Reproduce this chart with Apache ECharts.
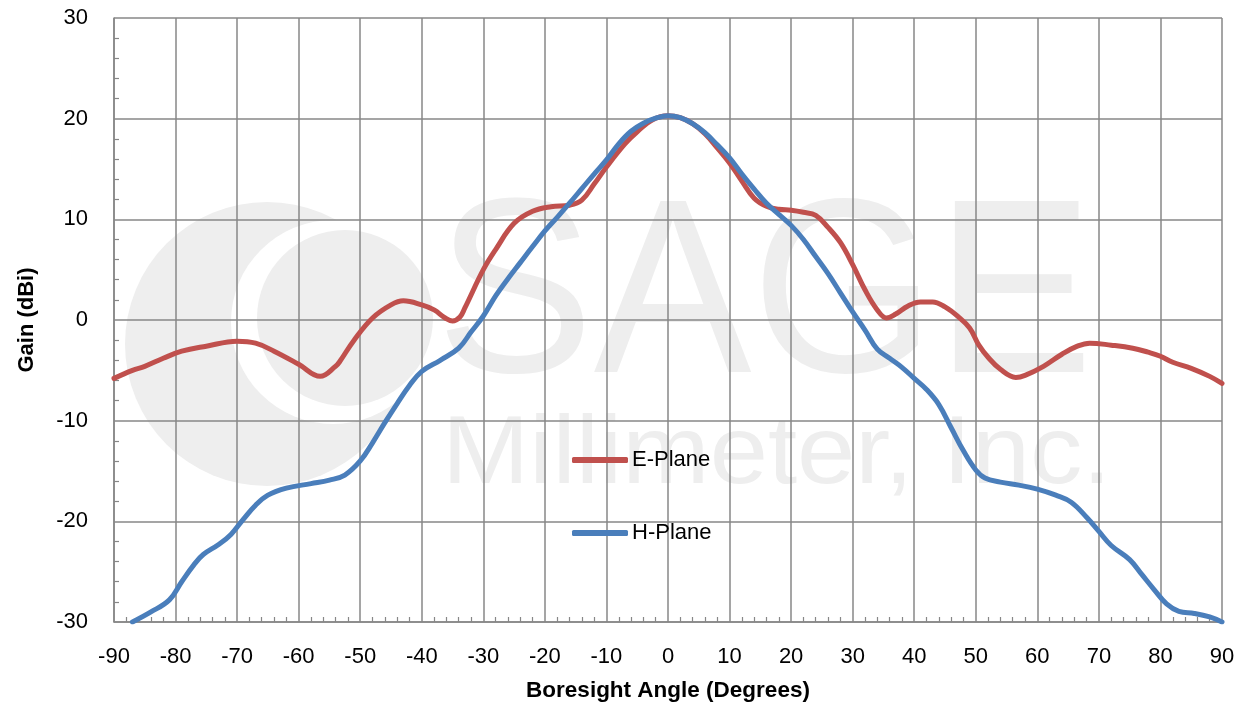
<!DOCTYPE html>
<html>
<head>
<meta charset="utf-8">
<script src="https://cdn.jsdelivr.net/npm/echarts@6/dist/echarts.min.js"></script>
<style>html,body{margin:0;padding:0;background:#fff}#c{width:1248px;height:711px}</style>
</head>
<body>
<div id="c"></div>
<script>
// Boresight angle (deg) and gain (dBi) pairs
const eAngles = [-90,-87,-85,-82,-79,-75,-70,-67,-64,-60,-56.5,-54,-53.3,-51,-48,-45,-43,-40,-38,-36.2,-35,-33.8,-33,-30,-28,-25,-22,-19,-16,-14,-12,-10,-7,-5,-2.5,0,2,4,6,8,10,12,14,16,18,20,22,24,26,28,30,32,34,35.5,37,39,41,43,45,47,49,50.5,52,54,56.5,58,61,64,66.5,68.5,72,75.5,78,80,82,85,88,90];
const eGain   = [-5.8,-5.0,-4.6,-3.8,-3.1,-2.6,-2.1,-2.3,-3.1,-4.4,-5.6,-4.6,-4.1,-2.0,0.2,1.5,1.9,1.5,1.0,0.2,-0.1,0.3,1.2,5.0,7.0,9.6,10.8,11.25,11.4,11.9,13.5,15.2,17.5,18.7,19.9,20.3,20.1,19.5,18.5,17.1,15.6,13.8,12.1,11.3,11.0,10.9,10.7,10.4,9.2,7.7,5.5,3.0,1.0,0.2,0.6,1.4,1.8,1.8,1.3,0.4,-0.8,-2.5,-3.7,-4.9,-5.7,-5.5,-4.6,-3.4,-2.6,-2.3,-2.5,-2.8,-3.2,-3.6,-4.2,-4.8,-5.6,-6.3];
const hAngles = [-87,-84,-81,-79,-77,-75.5,-73,-71,-69,-67,-65,-62,-58,-55,-52.5,-50,-48,-46,-44,-42,-40,-37,-34,-32,-30,-28,-26,-24,-22,-20,-18,-16,-14,-12,-10,-8,-6,-4,-2,0,2,4,6,8,10,12,14,16,18,20,22,24,26,28,30,32,34,36,38,40,42,44,46,48,50,51.5,54,57,60,63,65.5,68,70,72,75,77,79,81,83,85.5,88,90];
const hGain   = [-30.0,-29.0,-27.8,-26.0,-24.3,-23.3,-22.3,-21.3,-19.8,-18.4,-17.4,-16.7,-16.25,-15.9,-15.4,-14.0,-12.2,-10.2,-8.3,-6.5,-5.1,-4.0,-2.8,-1.2,0.4,2.4,4.1,5.7,7.3,8.85,10.2,11.6,13.05,14.5,15.9,17.5,18.75,19.55,20.05,20.3,20.1,19.5,18.6,17.4,16.1,14.5,13.0,11.6,10.5,9.4,8.0,6.3,4.6,2.7,0.8,-1.0,-2.9,-3.8,-4.7,-5.8,-6.9,-8.4,-10.7,-13.0,-14.9,-15.7,-16.1,-16.4,-16.8,-17.4,-18.1,-19.6,-21.0,-22.4,-23.8,-25.3,-26.8,-28.2,-28.95,-29.15,-29.5,-30.0];
const xTicks = {min: -90, max: 90, interval: 10};
const yTicks = {min: -30, max: 30, interval: 10};
const seriesNames = ['E-Plane', 'H-Plane'];

const pairs = (xs, ys) => xs.map((x, i) => [x, ys[i]]);
const FONT = 'Liberation Sans';
const gridColor = '#878787';
const wm = '#eeeeee';

const chart = echarts.init(document.getElementById('c'), null, {renderer: 'canvas'});
chart.setOption({
  backgroundColor: '#ffffff',
  animation: false,
  textStyle: {fontFamily: FONT},
  graphic: [
    {type: 'circle', z: -10, silent: true, shape: {cx: 267, cy: 344, r: 142}, style: {fill: wm}},
    {type: 'circle', z: -9, silent: true, shape: {cx: 333, cy: 322, r: 102}, style: {fill: '#ffffff'}},
    {type: 'circle', z: -8, silent: true, shape: {cx: 345, cy: 318, r: 88}, style: {fill: wm}},
    {type: 'text', z: -10, silent: true, x: 436, y: 179, scaleX: 0.95,
     style: {text: 'SAGE', font: '249px "Liberation Sans"', fill: wm}},
    {type: 'text', z: -10, silent: true, x: 442, y: 408, scaleX: 1.08,
     style: {text: 'Millimeter, Inc.', font: '97px "Liberation Sans"', fill: wm}}
  ],
  grid: {left: 114, right: 26, top: 18, bottom: 89, containLabel: false},
  legend: {
    orient: 'vertical', left: 572, top: 449, itemGap: 51, padding: 0,
    itemWidth: 56, itemHeight: 6, icon: 'roundRect',
    textStyle: {fontFamily: FONT, fontSize: 22, color: '#000', padding: [0, 0, 0, -1]},
    data: seriesNames
  },
  xAxis: {
    type: 'value', min: xTicks.min, max: xTicks.max, interval: xTicks.interval,
    name: 'Boresight Angle (Degrees)', nameLocation: 'middle', nameGap: 57,
    nameTextStyle: {fontFamily: FONT, fontSize: 22.5, fontWeight: 'bold', color: '#000'},
    axisLine: {show: true, onZero: false, lineStyle: {color: gridColor, width: 1.5}},
    axisTick: {show: false, inside: true},
    minorTick: {show: true, splitNumber: 5, length: 5, lineStyle: {color: gridColor, width: 1.2}},
    axisLabel: {fontFamily: FONT, fontSize: 22, color: '#000', margin: 24},
    splitLine: {show: true, lineStyle: {color: gridColor, width: 1.5}}
  },
  yAxis: {
    type: 'value', min: yTicks.min, max: yTicks.max, interval: yTicks.interval,
    name: 'Gain (dBi)', nameLocation: 'middle', nameGap: 76, nameRotate: 90,
    nameTextStyle: {fontFamily: FONT, fontSize: 22, fontWeight: 'bold', color: '#000'},
    axisLine: {show: true, onZero: false, lineStyle: {color: gridColor, width: 1.5}},
    axisTick: {show: false, inside: true},
    minorTick: {show: true, splitNumber: 5, length: 5, lineStyle: {color: gridColor, width: 1.2}},
    axisLabel: {fontFamily: FONT, fontSize: 22, color: '#000', margin: 26},
    splitLine: {show: true, lineStyle: {color: gridColor, width: 1.5}}
  },
  series: [
    {name: seriesNames[0], type: 'line', data: pairs(eAngles, eGain), smooth: 0.4,
     showSymbol: false, symbol: 'none', color: '#c0504d', clip: true,
     lineStyle: {width: 5, color: '#c0504d', cap: 'round', join: 'round'}, z: 3},
    {name: seriesNames[1], type: 'line', data: pairs(hAngles, hGain), smooth: 0.4,
     showSymbol: false, symbol: 'none', color: '#4a7ebb', clip: true,
     lineStyle: {width: 5, color: '#4a7ebb', cap: 'round', join: 'round'}, z: 4}
  ]
});
</script>
</body>
</html>
